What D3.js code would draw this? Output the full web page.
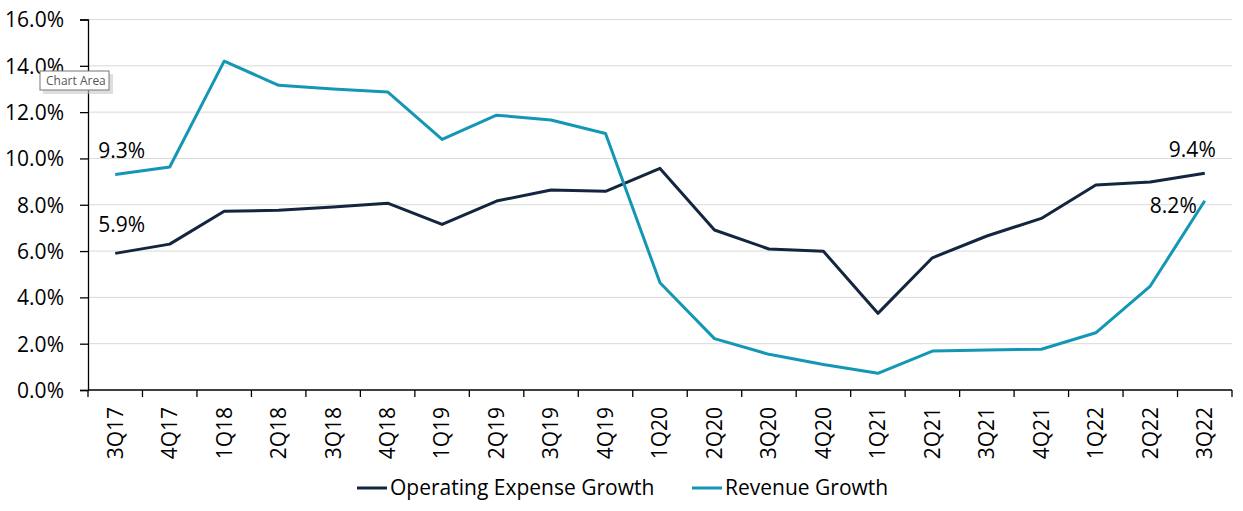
<!DOCTYPE html>
<html>
<head>
<meta charset="utf-8">
<script src="https://cdn.jsdelivr.net/npm/d3@7"></script>
<style>
  body { margin: 0; background: #fff; }
  svg text { font-family: "Open Sans", Lato, sans-serif; fill: #000; }
</style>
</head>
<body>
<svg id="chart" width="1243" height="511"></svg>
<script>
'use strict';

// Trimestres
const trimestres = ["3Q17", "4Q17", "1Q18", "2Q18", "3Q18", "4Q18", "1Q19", "2Q19", "3Q19", "4Q19",
    "1Q20", "2Q20", "3Q20", "4Q20", "1Q21", "2Q21", "3Q21", "4Q21", "1Q22", "2Q22", "3Q22"];

// Valeurs en %
const croissanceCharges = [5.9, 6.3, 7.72, 7.76, 7.9, 8.07, 7.15, 8.16, 8.64, 8.58,
    9.57, 6.91, 6.09, 5.99, 3.31, 5.71, 6.65, 7.41, 8.85, 8.98, 9.36];
const croissanceRevenus = [9.31, 9.63, 14.2, 13.16, 13.0, 12.87, 10.82, 11.87, 11.66, 11.08,
    4.63, 2.22, 1.54, 1.1, 0.72, 1.68, 1.73, 1.76, 2.47, 4.49, 8.17];

const ticksY = [0, 2, 4, 6, 8, 10, 12, 14, 16];

const series = [
    { nom: "Operating Expense Growth", valeurs: croissanceCharges, couleur: "#14253f" },
    { nom: "Revenue Growth", valeurs: croissanceRevenus, couleur: "#1497b5" }
];

const svg = d3.select("#chart");
const gauche = 88, droite = 1232, haut = 19.5, bas = 390;
const taille = "21px";

const x = d3.scaleBand().domain(trimestres).range([gauche, droite]);
const y = d3.scaleLinear().domain([0, 16]).range([bas, haut]);

// Grille horizontale
svg.append("g")
    .selectAll("line")
    .data(ticksY.filter(d => d > 0))
    .join("line")
    .attr("x1", gauche).attr("x2", droite)
    .attr("y1", d => y(d)).attr("y2", d => y(d))
    .attr("stroke", "#d9d9d9").attr("stroke-width", 1);

// Axe Y
const axeY = svg.append("g")
    .attr("transform", `translate(${gauche},0)`)
    .call(d3.axisLeft(y).tickValues(ticksY).tickFormat(d => d.toFixed(1) + "%").tickSize(8).tickPadding(16));
axeY.select(".domain").attr("stroke", "#000").attr("stroke-width", 1.3);
axeY.selectAll(".tick line").attr("stroke", "#000").attr("stroke-width", 1.3);
axeY.selectAll(".tick text").style("font-size", taille).attr("fill", "#000").attr("dy", "0.35em");

// Axe X : traits aux limites des bandes
const axeX = svg.append("g").attr("transform", `translate(0,${bas})`);
axeX.append("line")
    .attr("x1", gauche).attr("x2", droite)
    .attr("stroke", "#000").attr("stroke-width", 1.3);
axeX.selectAll(".trait")
    .data(trimestres.concat(["fin"]))
    .join("line")
    .attr("class", "trait")
    .attr("x1", (d, i) => gauche + i * x.bandwidth())
    .attr("x2", (d, i) => gauche + i * x.bandwidth())
    .attr("y1", 0).attr("y2", 7)
    .attr("stroke", "#000").attr("stroke-width", 1.3);
axeX.selectAll(".etiquette")
    .data(trimestres)
    .join("text")
    .attr("class", "etiquette")
    .attr("transform", d => `translate(${x(d) + x.bandwidth() / 2},17) rotate(-90)`)
    .attr("text-anchor", "end")
    .attr("dy", "0.35em")
    .style("font-size", taille)
    .text(d => d);

// Lignes
const ligne = d3.line()
    .x((d, i) => x(trimestres[i]) + x.bandwidth() / 2)
    .y(d => y(d));

series.forEach(s => {
    svg.append("path")
        .datum(s.valeurs)
        .attr("fill", "none")
        .attr("stroke", s.couleur)
        .attr("stroke-width", 3)
        .attr("stroke-linejoin", "round")
        .attr("d", ligne);
});

// Étiquettes de données
const cx = i => x(trimestres[i]) + x.bandwidth() / 2;
const dernier = trimestres.length - 1;
const etiquettes = [
    { texte: croissanceRevenus[0].toFixed(1) + "%", x: cx(0) - 17, y: y(croissanceRevenus[0]) - 24, ancre: "start" },
    { texte: croissanceCharges[0].toFixed(1) + "%", x: cx(0) - 17, y: y(croissanceCharges[0]) - 29, ancre: "start" },
    { texte: croissanceCharges[dernier].toFixed(1) + "%", x: cx(dernier) + 11, y: y(croissanceCharges[dernier]) - 24, ancre: "end" },
    { texte: croissanceRevenus[dernier].toFixed(1) + "%", x: cx(dernier) - 8, y: y(croissanceRevenus[dernier]) + 5, ancre: "end" }
];
svg.append("g")
    .selectAll("text")
    .data(etiquettes)
    .join("text")
    .attr("x", d => d.x).attr("y", d => d.y)
    .attr("text-anchor", d => d.ancre)
    .attr("dy", "0.35em")
    .style("font-size", taille)
    .text(d => d.texte);

// Légende
const legende = svg.append("g").attr("transform", "translate(357,488)");
const posLegende = [0, 335];
series.forEach((s, i) => {
    const g = legende.append("g").attr("transform", `translate(${posLegende[i]},0)`);
    g.append("line").attr("x1", 0).attr("x2", 30).attr("stroke", s.couleur).attr("stroke-width", 3);
    g.append("text").attr("x", 33).attr("dy", "0.35em").style("font-size", taille).text(s.nom);
});

// Info-bulle "Chart Area"
const bulle = svg.append("g").attr("transform", "translate(40,71)");
bulle.append("rect").attr("x", 3).attr("y", 3).attr("width", 70).attr("height", 20).attr("fill", "#c8c8c8").attr("opacity", 0.6);
bulle.append("rect").attr("width", 69).attr("height", 19).attr("fill", "#fff").attr("stroke", "#767676");
bulle.append("text").attr("x", 6).attr("y", 10).attr("dy", "0.35em")
    .style("font-size", "12px").style("fill", "#575757").text("Chart Area");
</script>
</body>
</html>
